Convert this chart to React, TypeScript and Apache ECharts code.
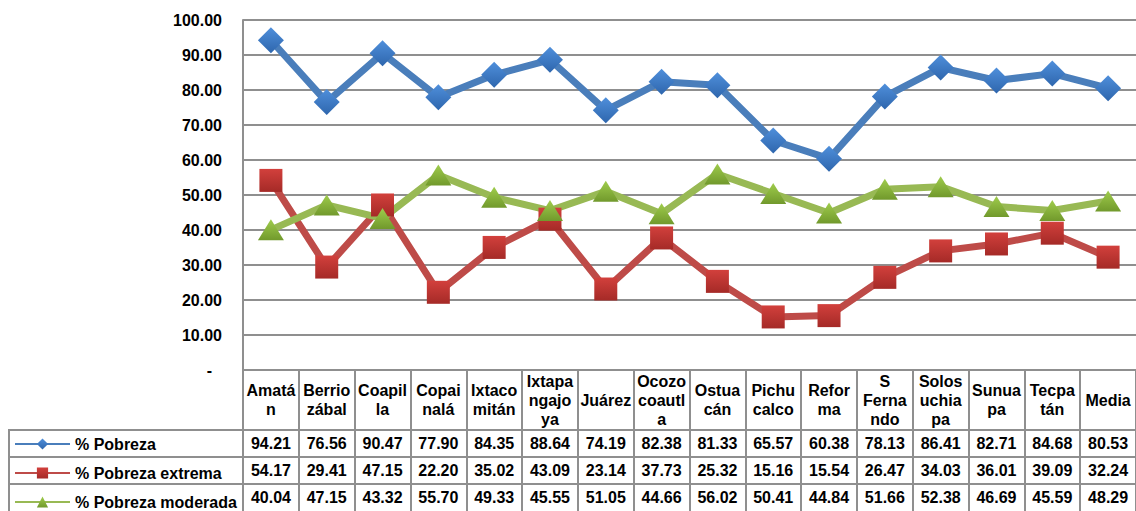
import React, { useEffect, useRef } from "react";
import * as echarts from "echarts";

const categories = [
  "Amatá\nn", "Berrio\nzábal", "Coapil\nla", "Copai\nnalá", "Ixtaco\nmitán",
  "Ixtapa\nngajo\nya", "Juárez", "Ocozo\ncoautl\na", "Ostua\ncán", "Pichu\ncalco",
  "Refor\nma", "S\nFerna\nndo", "Solos\nuchia\npa", "Sunua\npa", "Tecpa\ntán", "Media",
];
const pobreza = [94.21, 76.56, 90.47, 77.9, 84.35, 88.64, 74.19, 82.38, 81.33, 65.57, 60.38, 78.13, 86.41, 82.71, 84.68, 80.53];
const extrema = [54.17, 29.41, 47.15, 22.2, 35.02, 43.09, 23.14, 37.73, 25.32, 15.16, 15.54, 26.47, 34.03, 36.01, 39.09, 32.24];
const moderada = [40.04, 47.15, 43.32, 55.7, 49.33, 45.55, 51.05, 44.66, 56.02, 50.41, 44.84, 51.66, 52.38, 46.69, 45.59, 48.29];
const seriesNames = ["% Pobreza", "% Pobreza extrema", "% Pobreza moderada"];
const yTicks = { min: 0, max: 100, interval: 10 };

const FONT = "Liberation Sans, Arial, sans-serif";
const GRID_LINE = "#8f8f8f";

function grad(top: string, bottom: string) {
  return new echarts.graphic.LinearGradient(0, 0, 0, 1, [
    { offset: 0, color: top },
    { offset: 1, color: bottom },
  ]);
}

export default function App() {
  const ref = useRef<HTMLDivElement>(null);
  useEffect(() => {
    if (!ref.current) return;
    const chart = echarts.init(ref.current, undefined, { renderer: "svg" });
    const allSeries = [pobreza, extrema, moderada];
    const rowAxis = (idx: number, margin: number) => ({
      type: "category" as const,
      data: categories,
      position: "bottom" as const,
      gridIndex: 0,
      boundaryGap: true,
      axisLine: { show: false },
      axisTick: { show: false },
      splitLine: { show: false },
      axisLabel: {
        interval: 0,
        margin,
        verticalAlign: "middle" as const,
        fontFamily: FONT,
        fontWeight: "bold" as const,
        fontSize: 16,
        color: "#000",
        formatter: (_v: string, i: number) => allSeries[idx][i].toFixed(2),
      },
    });
    chart.setOption({
      animation: false,
      backgroundColor: "#fff",
      grid: { left: 243, right: -3, top: 20, bottom: 141, containLabel: false },
      legend: {
        orient: "vertical",
        left: 14,
        top: 436,
        padding: 0,
        itemWidth: 55,
        itemHeight: 14,
        itemGap: 13,
        textStyle: { fontFamily: FONT, fontWeight: "bold", fontSize: 16, color: "#000" },
        data: seriesNames,
      },
      xAxis: [
        {
          type: "category",
          data: categories,
          boundaryGap: true,
          axisLine: { show: true, lineStyle: { color: GRID_LINE, width: 2 } },
          axisTick: {
            show: true,
            interval: 0,
            length: 141,
            lineStyle: { color: GRID_LINE, width: 2 },
          },
          axisLabel: {
            interval: 0,
            margin: 30,
            verticalAlign: "middle",
            fontFamily: FONT,
            fontWeight: "bold",
            fontSize: 16,
            lineHeight: 19,
            color: "#000",
          },
        },
        rowAxis(0, 73),
        rowAxis(1, 100),
        rowAxis(2, 127),
      ],
      yAxis: {
        type: "value",
        min: yTicks.min,
        max: yTicks.max,
        interval: yTicks.interval,
        axisLine: { show: true, lineStyle: { color: GRID_LINE, width: 2 } },
        axisTick: { show: false },
        splitLine: { show: true, lineStyle: { color: GRID_LINE, width: 2 } },
        axisLabel: {
          margin: 21,
          fontFamily: FONT,
          fontWeight: "bold",
          fontSize: 16,
          color: "#000",
          formatter: (v: number) => (v === 0 ? "{d|-}" : v.toFixed(2)),
          rich: { d: { fontFamily: FONT, fontWeight: "bold", fontSize: 16, color: "#000", padding: [0, 10, 0, 0] } },
        },
      },
      graphic: [
        ...[430, 457, 484].map((y) => ({
          type: "line",
          shape: { x1: 8, y1: y, x2: 1136, y2: y },
          style: { stroke: GRID_LINE, lineWidth: 2 },
          z: 10,
        })),
        {
          type: "line",
          shape: { x1: 9, y1: 430, x2: 9, y2: 511 },
          style: { stroke: GRID_LINE, lineWidth: 2 },
          z: 10,
        },
      ],
      series: [
        {
          name: seriesNames[0],
          type: "line",
          data: pobreza,
          symbol: "diamond",
          symbolSize: 26,
          lineStyle: { color: "#4a7ebb", width: 7 },
          itemStyle: { color: grad("#4f8fdb", "#2e66ad") },
          z: 3,
        },
        {
          name: seriesNames[1],
          type: "line",
          data: extrema,
          symbol: "rect",
          symbolSize: 23,
          lineStyle: { color: "#be4b48", width: 7 },
          itemStyle: { color: grad("#d2403c", "#a52a27") },
          z: 2,
        },
        {
          name: seriesNames[2],
          type: "line",
          data: moderada,
          symbol: "triangle",
          symbolSize: [26, 21],
          lineStyle: { color: "#98b954", width: 7 },
          itemStyle: { color: grad("#9fcc4c", "#71992c") },
          z: 2,
        },
      ],
    });
    return () => chart.dispose();
  }, []);
  return <div ref={ref} style={{ width: 1136, height: 511, position: "absolute", left: 0, top: 0 }} />;
}
